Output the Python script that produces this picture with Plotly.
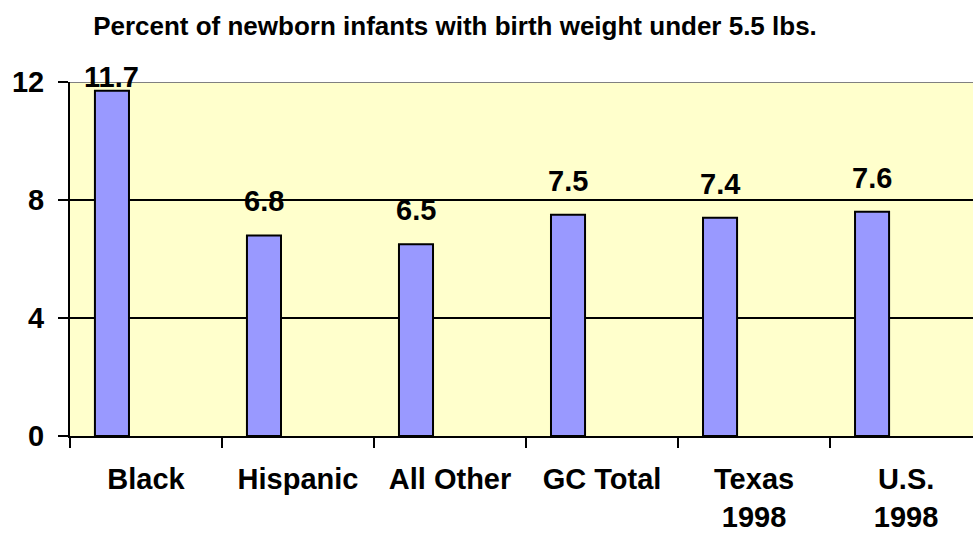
import plotly.graph_objects as go

# values
categories = ['Black', 'Hispanic', 'All Other', 'GC Total', 'Texas<br>1998', 'U.S.<br>1998']
percent = [11.7, 6.8, 6.5, 7.5, 7.4, 7.6]
y_ticks = [0, 4, 8, 12]

FONT = 'Liberation Sans, Arial, sans-serif'
BAR_OFFSET = -0.336
BAR_WIDTH = 0.224
PX_PER_UNIT = 354 / 12.0

fig = go.Figure()
fig.add_trace(go.Bar(
    x=categories, y=percent,
    offset=BAR_OFFSET, width=BAR_WIDTH,
    marker=dict(color='#9999FF', line=dict(color='black', width=2)),
    hovertemplate='%{x}: %{y}<extra></extra>'))

# value labels sit above the bars, pulled down when they would leave the plot
for i, v in enumerate(percent):
    shift = min(34, (12 - v) * PX_PER_UNIT + 5)
    fig.add_annotation(x=i + BAR_OFFSET + BAR_WIDTH / 2, y=v, yshift=shift,
                       text='<b>%.1f</b>' % v, showarrow=False, yanchor='middle',
                       font=dict(family=FONT, size=29, color='black'))

# grey line at the top of the plot area
fig.add_shape(type='line', xref='paper', yref='y', x0=0, x1=1, y0=12, y1=12,
              line=dict(color='#808080', width=2), layer='above')

fig.update_layout(
    width=973, height=542,
    margin=dict(l=70, r=0, t=82, b=106, autoexpand=False),
    paper_bgcolor='white', plot_bgcolor='#FFFFCC',
    showlegend=False,
    font=dict(family=FONT, color='black'),
    title=dict(text='<b>Percent of newborn infants with birth weight under 5.5 lbs.</b>',
               x=455 / 973, xref='container', xanchor='center',
               y=1 - 26 / 542, yref='container', yanchor='middle',
               font=dict(family=FONT, size=26, color='black')),
)
fig.update_xaxes(
    type='category', range=[-0.5, 5.44],
    tickvals=categories, ticktext=['<b>%s</b>' % c for c in categories],
    tickfont=dict(family=FONT, size=29, color='black'),
    showline=True, linecolor='black', linewidth=2,
    ticks='outside', tickson='boundaries', ticklen=10, tickwidth=2, tickcolor='black',
    ticklabelstandoff=16, showgrid=False, zeroline=False)
fig.update_yaxes(
    range=[0, 12], tickvals=y_ticks, ticktext=['<b>%d</b>' % t for t in y_ticks],
    tickfont=dict(family=FONT, size=29, color='black'),
    showline=True, linecolor='black', linewidth=2,
    ticks='outside', ticklen=10, tickwidth=2, tickcolor='black',
    ticklabelstandoff=8,
    showgrid=True, gridcolor='black', gridwidth=2, zeroline=False)

# drop the default body margin so the figure sits at the page corner
fig.write_html('out.html', config={'displayModeBar': False},
               post_script="document.body.style.margin='0';")
